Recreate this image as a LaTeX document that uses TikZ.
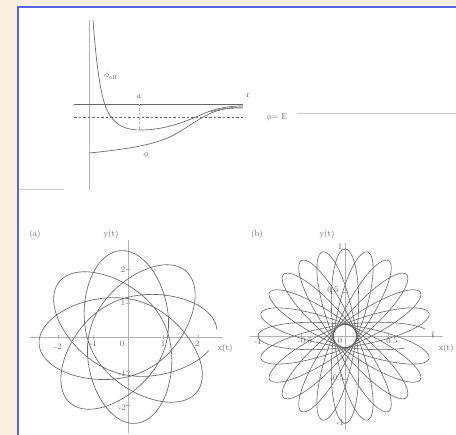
\documentclass[tikz,border=0pt]{standalone}
\usepackage{xcolor}
\definecolor{bgc}{HTML}{FAF0DF}
\definecolor{frm}{HTML}{5566E6}
\definecolor{ink}{HTML}{666666}
\begin{document}
\begin{tikzpicture}[x=1pt,y=-1pt,
  lbl/.style={font=\fontsize{8.5}{10}\selectfont, text=ink, inner sep=0pt},
  axisline/.style={draw=gray!60, line width=0.5pt},
  thinline/.style={draw=gray!40, line width=0.6pt},
  curve/.style={draw=ink, line width=0.65pt, line join=round},
  dashline/.style={draw=ink, line width=0.5pt, dash pattern=on 2.5pt off 2pt}]
\useasboundingbox (0,0) rectangle (456,435);
\fill[bgc] (0,0) rectangle (456,435);
\fill[white] (18,7) rectangle (456,435);
\draw[frm, line width=1.5pt] (18,435) -- (18,7) -- (456,7);

% ---------- top: potential ----------
\coordinate (vt) at (89,20);
\coordinate (vb) at (89,190);
\coordinate (hl) at (74,104);
\coordinate (hr) at (243,104);
\coordinate (dl) at (74,117);
\coordinate (dr) at (243,117);
\coordinate (at) at (139,104);
\coordinate (ab) at (139,130);
\coordinate (el) at (297,113);
\coordinate (er) at (456,113);
\coordinate (sl) at (19,189);
\coordinate (sr) at (64,189);
\draw[axisline] (vt) -- (vb);
\draw[draw=ink, line width=0.6pt] (hl) -- (hr);
\draw[dashline] (dl) -- (dr);
\draw[dashline, draw=gray!55] (at) -- (ab);
\draw[thinline] (el) -- (er);
\draw[thinline] (sl) -- (sr);
% V_eff
\draw[curve] (93,20) .. controls (96,60) and (100,95) .. (107,110)
  .. controls (114,125) and (125,130) .. (140,130)
  .. controls (165,130) and (185,122) .. (205,113)
  .. controls (220,107) and (232,106) .. (243,106);
% V
\draw[curve] (89,153) .. controls (120,150) and (150,146) .. (170,137)
  .. controls (190,127) and (205,112) .. (225,109)
  .. controls (232,108) and (238,108) .. (243,108);
\draw[curve, line width=0.45pt] (210,112) .. controls (222,108) and (232,107.5) .. (243,107);
\node[lbl] (leff) at (111,76) {$\phi_{\mathrm{eff}}$};
\node[lbl] (la) at (139,97) {a};
\node[lbl] (lr) at (248,96) {r};
\node[lbl] (lE) at (277,117) {$\phi$= E};
\node[lbl] (lphi) at (146,155) {$\phi$};

% ---------- (a) ----------
\coordinate (ayt) at (128,240);
\coordinate (ayb) at (128,433);
\coordinate (axl) at (30,337);
\coordinate (axr) at (223,337);
\draw[axisline] (ayt) -- (ayb);
\draw[axisline] (axl) -- (axr);
\begin{scope}[shift={(128,337)}, x=35pt, y=34pt]
  \foreach \t in {-2,-1,1,2} {
    \draw[axisline] (\t,-0.06) -- (\t,0.06);
    \draw[axisline] (-0.06,\t) -- (0.06,\t);
  }
  \draw[curve] plot[domain=5:1790, samples=1300]
    ({cos(\x)/sqrt(0.49-0.336*cos(1.6*(\x-5)))},
     {sin(\x)/sqrt(0.49-0.336*cos(1.6*(\x-5)))});
\end{scope}
\node[lbl] (atag) at (35,234) {(a)};
\node[lbl] (ayl) at (111,234) {y(t)};
\node[lbl] (ax1) at (58,347) {-2};
\node[lbl] (ax2) at (93,344) {-1};
\node[lbl] (ax3) at (122,344) {0};
\node[lbl] (ax4) at (163,344) {1};
\node[lbl] (ax5) at (197,344) {2};
\node[lbl] (axl2) at (225,348) {x(t)};
\node[lbl] (ay1) at (123,270) {2};
\node[lbl] (ay2) at (123,303) {1};
\node[lbl] (ay3) at (122,374) {-1};
\node[lbl] (ay4) at (122,408) {-2};

% ---------- (b) ----------
\coordinate (byt) at (345,243);
\coordinate (byb) at (345,430);
\coordinate (bxl) at (250,336);
\coordinate (bxr) at (443,336);
\draw[axisline] (byt) -- (byb);
\draw[axisline] (bxl) -- (bxr);
\begin{scope}[shift={(345,336)}, x=87pt, y=87pt]
  \foreach \t in {-1,-0.5,0.5,1} {
    \draw[axisline] (\t,-0.025) -- (\t,0.025);
    \draw[axisline] (-0.025,\t) -- (0.025,\t);
  }
  \draw[curve, line width=0.6pt] plot[domain=0.4:74.6, samples=2400]
    ({cos(deg(\x))*cos(deg(\x)/12) - 0.13*sin(deg(\x))*sin(deg(\x)/12)},
     {cos(deg(\x))*sin(deg(\x)/12) + 0.13*sin(deg(\x))*cos(deg(\x)/12)});
\end{scope}
\node[lbl] (btag) at (257,234) {(b)};
\node[lbl] (byl) at (327,234) {y(t)};
\node[lbl] (bx1) at (258,342) {-1};
\node[lbl] (bx2) at (305,341) {-0.5};
\node[lbl] (bx3) at (340,341) {0};
\node[lbl] (bx4) at (392,341) {0.5};
\node[lbl] (bx5) at (433,335) {1};
\node[lbl] (bxl2) at (446,348) {x(t)};
\node[lbl] (by1) at (340,247) {1};
\node[lbl] (by2) at (333,290) {0.5};
\node[lbl] (by3) at (337,378) {-0.5};
\node[lbl] (by4) at (340,423) {-1};
\end{tikzpicture}
\end{document}
